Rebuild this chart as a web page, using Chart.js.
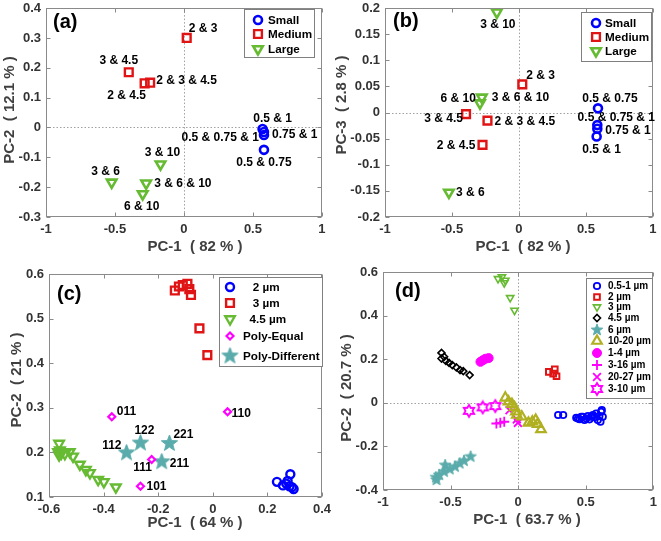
<!DOCTYPE html>
<html>
<head>
<meta charset="utf-8">
<script src="https://cdn.jsdelivr.net/npm/chart.js@4.4.1/dist/chart.umd.min.js"></script>
<style>
  html, body { margin: 0; padding: 0; background: #fff; }
  #wrap { position: relative; width: 661px; height: 541px; overflow: hidden; }
  canvas { position: absolute; }
</style>
</head>
<body>
<div id="wrap">
  <canvas id="ca" width="330" height="262" style="left:0;top:0"></canvas>
  <canvas id="cb" width="331" height="262" style="left:330px;top:0"></canvas>
  <canvas id="cc" width="345" height="279" style="left:0;top:262px"></canvas>
  <canvas id="cd" width="331" height="279" style="left:330px;top:262px"></canvas>
</div>
<script>
const FONT = "'Liberation Sans', Arial, Helvetica, sans-serif";
const BLUE = '#0000ff', RED = '#e01414', GREEN = '#66bb33', TEAL = '#5aabab',
      MAG = '#ff00ff', OLIVE = '#b0b020', BLACK = '#000000';

// ---- panel (a): PC-1 vs PC-2
const aSmallX = [0.57, 0.58, 0.58, 0.58];
const aSmallY = [-0.005, -0.015, -0.025, -0.075];
const aSmallNames = ['0.5 & 1', '0.5 & 0.75 & 1', '0.75 & 1', '0.5 & 0.75'];
const aMediumX = [0.02, -0.40, -0.285, -0.245];
const aMediumY = [0.30, 0.185, 0.148, 0.15];
const aMediumNames = ['2 & 3', '3 & 4.5', '2 & 4.5', '2 & 3 & 4.5'];
const aLargeX = [-0.17, -0.524, -0.274, -0.299];
const aLargeY = [-0.123, -0.184, -0.187, -0.223];
const aLargeNames = ['3 & 10', '3 & 6', '3 & 6 & 10', '6 & 10'];

// ---- panel (b): PC-1 vs PC-3
const bSmallX = [0.59, 0.585, 0.585, 0.58];
const bSmallY = [0.008, -0.024, -0.031, -0.046];
const bSmallNames = ['0.5 & 0.75', '0.5 & 0.75 & 1', '0.75 & 1', '0.5 & 1'];
const bMediumX = [0.025, -0.395, -0.235, -0.272];
const bMediumY = [0.054, -0.003, -0.0155, -0.062];
const bMediumNames = ['2 & 3', '3 & 4.5', '2 & 3 & 4.5', '2 & 4.5'];
const bLargeX = [-0.165, -0.277, -0.291, -0.523];
const bLargeY = [0.192, 0.029, 0.018, -0.153];
const bLargeNames = ['3 & 10', '3 & 6 & 10', '6 & 10', '3 & 6'];

// ---- panel (c)
const c2X = [0.235, 0.257, 0.269, 0.284, 0.281, 0.296, 0.290, 0.274];
const c2Y = [0.134, 0.126, 0.130, 0.151, 0.124, 0.118, 0.122, 0.136];
const c3X = [-0.139, -0.124, -0.110, -0.093, -0.086, -0.080, -0.049, -0.020];
const c3Y = [0.563, 0.572, 0.575, 0.578, 0.566, 0.553, 0.478, 0.418];
const c45X = [-0.563, -0.567, -0.563, -0.560, -0.555, -0.542, -0.524, -0.512, -0.487, -0.465, -0.450, -0.420, -0.399, -0.355];
const c45Y = [0.220, 0.201, 0.194, 0.205, 0.198, 0.197, 0.201, 0.191, 0.173, 0.161, 0.154, 0.139, 0.134, 0.122];
const cEqX = [-0.37, 0.054, -0.224, -0.265];
const cEqY = [0.280, 0.291, 0.184, 0.124];
const cEqNames = ['011', '110', '111', '101'];
const cDiffX = [-0.316, -0.265, -0.159, -0.187];
const cDiffY = [0.199, 0.221, 0.220, 0.179];
const cDiffNames = ['112', '122', '221', '211'];

// ---- panel (d)
const d05X = [0.296, 0.333, 0.430, 0.455, 0.479, 0.504, 0.528, 0.540, 0.565, 0.577, 0.589, 0.601, 0.614, 0.619, 0.626, 0.609, 0.553, 0.516, 0.491, 0.467, 0.443];
const d05Y = [-0.056, -0.056, -0.069, -0.075, -0.064, -0.072, -0.076, -0.064, -0.066, -0.049, -0.079, -0.061, -0.041, -0.034, -0.064, -0.087, -0.056, -0.061, -0.079, -0.064, -0.072];
const d2X = [0.227, 0.271, 0.259, 0.284];
const d2Y = [0.142, 0.153, 0.134, 0.122];
const d3X = [-0.149, -0.120, -0.095, -0.103, -0.059, -0.027];
const d3Y = [0.569, 0.577, 0.562, 0.550, 0.482, 0.424];
const d45X = [-0.567, -0.567, -0.548, -0.535, -0.511, -0.487, -0.457, -0.430, -0.406, -0.359];
const d45Y = [0.229, 0.203, 0.211, 0.192, 0.183, 0.173, 0.162, 0.150, 0.145, 0.127];
const d6X = [-0.609, -0.604, -0.584, -0.548, -0.540, -0.506, -0.467, -0.433, -0.401, -0.352];
const d6Y = [-0.342, -0.354, -0.331, -0.316, -0.286, -0.305, -0.293, -0.278, -0.266, -0.247];
const d1020X = [-0.095, -0.071, -0.046, -0.027, -0.017, -0.010, 0.027, 0.076, 0.105, 0.130, 0.144, 0.169];
const d1020Y = [0.023, 0.005, -0.006, -0.021, -0.041, -0.056, -0.064, -0.092, -0.087, -0.079, -0.098, -0.122];
const d14X = [-0.279, -0.262, -0.242, -0.218];
const d14Y = [0.188, 0.195, 0.202, 0.205];
const d316X = [-0.161, -0.132, -0.103];
const d316Y = [-0.095, -0.092, -0.087];
const d2027X = [-0.064, -0.002, -0.010];
const d2027Y = [-0.034, -0.092, -0.076];
const d310X = [-0.364, -0.262, -0.169];
const d310Y = [-0.037, -0.021, -0.015];

// custom markers
function starMarker(r, color) {
  const c = document.createElement('canvas');
  c.width = c.height = Math.ceil(r * 2 + 2);
  const g = c.getContext('2d'), m = c.width / 2;
  g.beginPath();
  for (let k = 0; k < 10; k++) {
    const rr = k % 2 ? r * 0.42 : r, an = -Math.PI / 2 + k * Math.PI / 5;
    g.lineTo(m + rr * Math.cos(an), m + rr * Math.sin(an));
  }
  g.closePath();
  g.fillStyle = color; g.fill();
  g.strokeStyle = color; g.lineWidth = 1; g.stroke();
  return c;
}
function hexMarker(r, color, lw) {
  const c = document.createElement('canvas');
  c.width = c.height = Math.ceil(r * 2 + lw + 2);
  const g = c.getContext('2d'), m = c.width / 2;
  g.beginPath();
  for (let k = 0; k < 12; k++) {
    const rr = k % 2 ? r / Math.sqrt(3) : r, an = -Math.PI / 2 + k * Math.PI / 6;
    g.lineTo(m + rr * Math.cos(an), m + rr * Math.sin(an));
  }
  g.closePath();
  g.strokeStyle = color; g.lineWidth = lw; g.stroke();
  return c;
}

function mk(style, color, r, w, extra) {
  return Object.assign({
    pointStyle: style, pointRadius: r, pointBorderWidth: w,
    pointBorderColor: color, borderColor: color,
    pointBackgroundColor: 'rgba(0,0,0,0)', backgroundColor: 'rgba(0,0,0,0)',
    pointRotation: 0
  }, extra || {});
}
function series(label, xs, ys, style, names) {
  return Object.assign({ label, names, data: xs.map((x, i) => ({ x, y: ys[i] })) }, style);
}

const matlab = {
  id: 'matlab',
  beforeDatasetsDraw(chart, args, o) {
    const { ctx, chartArea: a, scales: { x, y } } = chart;
    if (!o.zero) return;
    ctx.save();
    ctx.strokeStyle = '#a0a0a0'; ctx.lineWidth = 1; ctx.setLineDash([1.5, 2]);
    const px = Math.round(x.getPixelForValue(0)) + 0.5, py = Math.round(y.getPixelForValue(0)) + 0.5;
    ctx.beginPath();
    ctx.moveTo(px, a.top); ctx.lineTo(px, a.bottom);
    ctx.moveTo(a.left, py); ctx.lineTo(a.right, py);
    ctx.stroke();
    ctx.restore();
  },
  afterDraw(chart, args, o) {
    const { ctx, chartArea: a, scales: { x, y } } = chart;
    ctx.save();
    // box and inward ticks
    ctx.strokeStyle = '#8a8a8a'; ctx.lineWidth = 1;
    const L = Math.round(a.left) + 0.5, R = Math.round(a.right) - 0.5, T = Math.round(a.top) + 0.5, B = Math.round(a.bottom) - 0.5;
    ctx.strokeRect(L, T, R - L, B - T);
    ctx.beginPath();
    x.ticks.forEach(t => {
      const p = Math.round(x.getPixelForValue(t.value)) + 0.5;
      ctx.moveTo(p, B); ctx.lineTo(p, B - 4);
      ctx.moveTo(p, T); ctx.lineTo(p, T + 4);
    });
    y.ticks.forEach(t => {
      const p = Math.round(y.getPixelForValue(t.value)) + 0.5;
      ctx.moveTo(L, p); ctx.lineTo(L + 4, p);
      ctx.moveTo(R, p); ctx.lineTo(R - 4, p);
    });
    ctx.stroke();

    // point labels
    ctx.fillStyle = '#000';
    ctx.font = 'bold 12px ' + FONT;
    ctx.textBaseline = 'middle';
    (o.labels || []).forEach(([ds, i, dx, dy, align]) => {
      const el = chart.getDatasetMeta(ds).data[i];
      ctx.textAlign = align;
      ctx.fillText(chart.data.datasets[ds].names[i], el.x + dx, el.y + dy);
    });

    // legend
    const lg = o.legend;
    ctx.fillStyle = '#fff';
    ctx.fillRect(lg.box[0], lg.box[1], lg.box[2] - lg.box[0], lg.box[3] - lg.box[1]);
    ctx.strokeStyle = '#808080';
    ctx.strokeRect(lg.box[0] + 0.5, lg.box[1] + 0.5, lg.box[2] - lg.box[0], lg.box[3] - lg.box[1]);
    chart.data.datasets.forEach((ds, k) => {
      const yy = lg.rows[k];
      ctx.save();
      ctx.strokeStyle = ds.pointBorderColor;
      ctx.fillStyle = ds.pointBackgroundColor;
      ctx.lineWidth = ds.pointBorderWidth;
      Chart.helpers.drawPoint(ctx, {
        pointStyle: ds.pointStyle, radius: ds.pointRadius,
        rotation: ds.pointRotation || 0, borderWidth: ds.pointBorderWidth
      }, lg.mx, yy);
      ctx.restore();
      ctx.fillStyle = '#000';
      ctx.textAlign = 'left';
      ctx.font = 'bold ' + lg.size + 'px ' + FONT;
      ctx.fillText(ds.label, lg.tx, yy + 0.5);
    });

    // panel tag
    ctx.fillStyle = '#000';
    ctx.font = 'bold 20px ' + FONT;
    ctx.textAlign = 'left';
    ctx.fillText(o.tag[0], o.tag[1], o.tag[2]);

    // axis titles
    ctx.fillStyle = '#404040';
    ctx.font = 'bold 15px ' + FONT;
    ctx.textAlign = 'center';
    ctx.fillText(o.xTitle[0], o.xTitle[1], o.xTitle[2]);
    ctx.translate(o.yTitle[1], o.yTitle[2]);
    ctx.rotate(-Math.PI / 2);
    ctx.fillText(o.yTitle[0], 0, 0);
    ctx.restore();
  }
};

function axes(xr, yr, box, H) {
  const fmt = v => String(+v.toFixed(2));
  const tf = { family: FONT, size: 13, weight: 'bold' };
  return {
    x: {
      type: 'linear', min: xr[0], max: xr[1],
      ticks: { stepSize: xr[2], callback: fmt, font: tf, color: '#333', padding: 5, maxRotation: 0, autoSkip: false },
      grid: { display: false, drawTicks: false }, border: { display: false },
      afterFit: s => { s.height = H - box[3]; s.paddingLeft = 0; s.paddingRight = 0; }
    },
    y: {
      type: 'linear', min: yr[0], max: yr[1],
      ticks: { stepSize: yr[2], callback: fmt, font: tf, color: '#333', padding: 5, autoSkip: false },
      grid: { display: false, drawTicks: false }, border: { display: false },
      afterFit: s => { s.width = box[0]; s.paddingTop = 0; s.paddingBottom = 0; }
    }
  };
}

function panel(id, W, H, box, xr, yr, datasets, opts) {
  new Chart(document.getElementById(id), {
    type: 'scatter',
    data: { datasets },
    options: {
      responsive: false, animation: false, events: [],
      layout: { padding: { left: 0, top: box[1], right: W - box[2], bottom: 0 } },
      scales: axes(xr, yr, box, H),
      plugins: { legend: { display: false }, tooltip: { enabled: false }, matlab: opts }
    },
    plugins: [matlab]
  });
}

// (a)
panel('ca', 330, 262, [46, 6, 322, 217], [-1, 1, 0.5], [-0.3, 0.4, 0.1], [
  series('Small', aSmallX, aSmallY, mk('circle', BLUE, 4, 2.6), aSmallNames),
  series('Medium', aMediumX, aMediumY, mk('rect', RED, 5.5, 2.4), aMediumNames),
  series('Large', aLargeX, aLargeY, mk('triangle', GREEN, 5.5, 2.6, { pointRotation: 180 }), aLargeNames)
], {
  zero: true,
  labels: [[0, 0, 10, -10, 'center'], [0, 1, -5, 6, 'right'], [0, 2, 8, 0, 'left'], [0, 3, 0, 13, 'center'],
           [1, 0, 2, -9, 'left'], [1, 1, -10, -12, 'center'], [1, 2, -18, 12, 'center'], [1, 3, 6, -2, 'left'],
           [2, 0, 2, -11, 'center'], [2, 1, -6, -11, 'center'], [2, 2, 8, 0, 'left'], [2, 3, -1, 13, 'center']],
  legend: { box: [244, 9, 314, 57], mx: 258, tx: 268, rows: [20, 34, 49], size: 11.7 },
  tag: ['(a)', 53, 22],
  xTitle: ['PC-1  ( 82 % )', 195, 247],
  yTitle: ['PC-2  ( 12.1 % )', 10, 110]
});

// (b)
panel('cb', 331, 262, [55, 6, 325, 217], [-1, 1, 0.5], [-0.2, 0.2, 0.05], [
  series('Small', bSmallX, bSmallY, mk('circle', BLUE, 4, 2.6), bSmallNames),
  series('Medium', bMediumX, bMediumY, mk('rect', RED, 5.5, 2.4), bMediumNames),
  series('Large', bLargeX, bLargeY, mk('triangle', GREEN, 5.5, 2.6, { pointRotation: 180 }), bLargeNames)
], {
  zero: true,
  labels: [[0, 0, 12, -10, 'center'], [0, 1, 19, -7, 'center'], [0, 2, 8, 1.5, 'left'], [0, 3, 5, 13.5, 'center'],
           [1, 0, 4, -9, 'left'], [1, 1, -3, 5, 'right'], [1, 2, 7, 1, 'left'], [1, 3, -7, 1, 'right'],
           [2, 0, 1, 12, 'center'], [2, 1, 10, 0.5, 'left'], [2, 2, -4, -4, 'right'], [2, 3, 7, 0.5, 'left']],
  legend: { box: [251, 12, 321, 61], mx: 266, tx: 275, rows: [23, 37, 51], size: 11.7 },
  tag: ['(b)', 63, 21],
  xTitle: ['PC-1  ( 82 % )', 193, 247],
  yTitle: ['PC-3  ( 2.8 % )', 12, 105]
});

// (c)
panel('cc', 345, 279, [49, 12, 322, 235], [-0.6, 0.4, 0.2], [0.1, 0.6, 0.1], [
  series('   2 µm', c2X, c2Y, mk('circle', BLUE, 4, 2.4)),
  series('   3 µm', c3X, c3Y, mk('rect', RED, 5.5, 2.4)),
  series('  4.5 µm', c45X, c45Y, mk('triangle', GREEN, 5.5, 2.4, { pointRotation: 180 })),
  series('Poly-Equal', cEqX, cEqY, mk('rectRot', MAG, 3.5, 2.2), cEqNames),
  series('Poly-Different', cDiffX, cDiffY, mk(starMarker(8.5, TEAL), TEAL, 8, 1), cDiffNames)
], {
  zero: false,
  labels: [[3, 0, 5, -5, 'left'], [3, 1, 4, 1.5, 'left'], [3, 2, -9, 8, 'center'], [3, 3, 6, 0, 'left'],
           [4, 0, -5, -7, 'right'], [4, 1, 4, -12, 'center'], [4, 2, 14, -9, 'center'], [4, 3, 8, 2, 'left']],
  legend: { box: [219, 15, 322, 104], mx: 230, tx: 243, rows: [25, 41, 57, 74, 94], size: 11.7 },
  tag: ['(c)', 57, 32],
  xTitle: ['PC-1  ( 64 % )', 195, 261],
  yTitle: ['PC-2  ( 21 % )', 17, 118]
});

// (d)
panel('cd', 331, 279, [53, 10, 326, 228], [-1, 1, 0.5], [-0.4, 0.6, 0.2], [
  series('0.5-1 µm', d05X, d05Y, mk('circle', BLUE, 3.2, 1.8)),
  series('2 µm', d2X, d2Y, mk('rect', RED, 4, 2)),
  series('3 µm', d3X, d3Y, mk('triangle', GREEN, 4.2, 1.6, { pointRotation: 180 })),
  series('4.5 µm', d45X, d45Y, mk('rectRot', BLACK, 3.5, 1.6)),
  series('6 µm', d6X, d6Y, mk(starMarker(6, TEAL), TEAL, 6, 1)),
  series('10-20 µm', d1020X, d1020Y, mk('triangle', OLIVE, 5.5, 2.2)),
  series('1-4 µm', d14X, d14Y, mk('circle', MAG, 4.5, 1, { pointBackgroundColor: MAG, backgroundColor: MAG })),
  series('3-16 µm', d316X, d316Y, mk('cross', MAG, 5, 1.8)),
  series('20-27 µm', d2027X, d2027Y, mk('crossRot', MAG, 5.5, 1.8)),
  series('3-10 µm', d310X, d310Y, mk(hexMarker(6, MAG, 1.8), MAG, 6, 1))
], {
  zero: true,
  labels: [],
  legend: { box: [256, 16, 322, 136], mx: 267, tx: 278, rows: [24, 35, 45, 56, 68, 79, 91, 103, 115, 127], size: 10 },
  tag: ['(d)', 65, 29],
  xTitle: ['PC-1  ( 63.7 % )', 197, 258],
  yTitle: ['PC-2  ( 20.7 % )', 17, 126]
});
</script>
</body>
</html>
